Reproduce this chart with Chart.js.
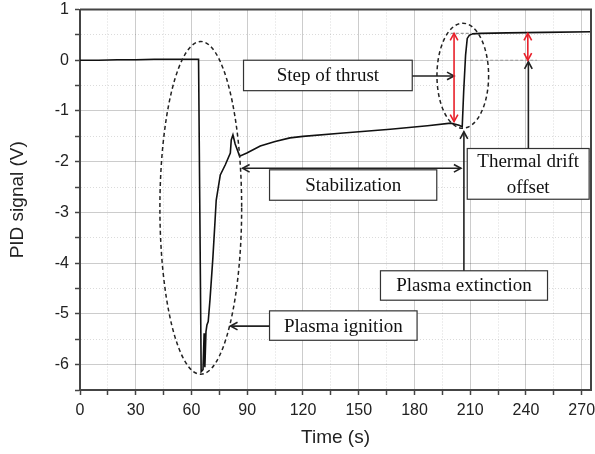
<!DOCTYPE html>
<html>
<head>
<meta charset="utf-8">
<script src="https://cdn.jsdelivr.net/npm/chart.js@4.4.1/dist/chart.umd.min.js"></script>
<style>
  html, body { margin: 0; padding: 0; background: #fff; }
  #wrap { width: 595px; height: 454px; }
</style>
</head>
<body>
<div id="wrap"><canvas id="chart" width="595" height="454"></canvas></div>
<script>
// PID signal vs time
const timeS = [0, 10, 20, 30, 40, 50, 60, 63, 63.8, 64.5, 65.2, 65.5, 66.2, 66.8, 67.2, 67.8,
  68.3, 69, 70, 71.5, 72.7, 73.3, 75.5, 78.2, 80.9, 81.4, 82.3, 83.5, 85.9, 89.8, 97, 105,
  113, 120, 140, 167, 187, 199.5, 204, 205.7, 206.5, 207.5, 208.4, 209.5, 211.1, 215.6,
  230, 250, 275];
const pidV = [0, 0, 0.01, 0.01, 0.02, 0.02, 0.02, 0.02, 0.02, -3.0, -6.14, -6.14, -6.1, -5.38,
  -6.05, -5.35, -5.22, -5.15, -4.7, -3.9, -3.15, -2.76, -2.26, -2.06, -1.83, -1.57, -1.47,
  -1.65, -1.89, -1.83, -1.69, -1.6, -1.53, -1.5, -1.44, -1.36, -1.29, -1.24, -1.28, -1.31,
  -0.6, 0.1, 0.43, 0.49, 0.52, 0.53, 0.54, 0.55, 0.56];

const xMajor = 30;   // labelled x ticks
const yMajor = 1;    // labelled y ticks

const points = timeS.map((t, i) => ({ x: t, y: pidV[i] }));

// annotations, in data units
const ellipses = [
  { cx: 65, cy: -2.91, rx: 22, ry: 3.28 },
  { cx: 206, cy: -0.305, rx: 13.9, ry: 1.035 },
];
const refLines = [
  { y: 0.53, x1: 199.5, x2: 211 },
  { y: 0, x1: 210, x2: 246 },
];
const boxes = [
  { x1: 88, x2: 178.8, y1: 0, y2: -0.6, lines: ["Step of thrust"] },
  { x1: 102, x2: 192, y1: -2.16, y2: -2.76, lines: ["Stabilization"] },
  { x1: 102, x2: 181.4, y1: -4.94, y2: -5.52, lines: ["Plasma ignition"] },
  { x1: 161.7, x2: 251.6, y1: -4.15, y2: -4.73, lines: ["Plasma extinction"] },
  { x1: 208.4, x2: 274, y1: -1.74, y2: -2.74, lines: ["Thermal drift", "offset"] },
];
const arrows = [
  { x1: 178.8, y1: -0.31, x2: 201.3, y2: -0.31, both: false, color: "#222" },
  { x1: 205, y1: -2.13, x2: 87.5, y2: -2.13, both: true, color: "#222" },
  { x1: 102, y1: -5.24, x2: 81, y2: -5.24, both: false, color: "#222" },
  { x1: 206.6, y1: -4.15, x2: 206.6, y2: -1.41, both: false, color: "#222" },
  { x1: 241.3, y1: -1.74, x2: 241.3, y2: -0.03, both: false, color: "#222" },
  { x1: 201.3, y1: -1.21, x2: 201.3, y2: 0.53, both: true, color: "#e8202a" },
  { x1: 241, y1: 0.0, x2: 241, y2: 0.53, both: true, color: "#e8202a" },
];

function head(ctx, fx, fy, tx, ty) {
  const a = Math.atan2(ty - fy, tx - fx);
  const len = 8, sp = 0.5;
  ctx.beginPath();
  ctx.moveTo(tx - len * Math.cos(a - sp), ty - len * Math.sin(a - sp));
  ctx.lineTo(tx, ty);
  ctx.lineTo(tx - len * Math.cos(a + sp), ty - len * Math.sin(a + sp));
  ctx.stroke();
}

const notes = {
  id: "notes",
  afterDatasetsDraw(chart) {
    const { ctx, chartArea: ca } = chart;
    const X = (v) => chart.scales.x.getPixelForValue(v);
    const Y = (v) => chart.scales.y.getPixelForValue(v);
    ctx.save();

    // top and right frame
    ctx.strokeStyle = "#444";
    ctx.lineWidth = 2;
    ctx.beginPath();
    ctx.moveTo(ca.left, ca.top);
    ctx.lineTo(ca.right, ca.top);
    ctx.lineTo(ca.right, ca.bottom);
    ctx.stroke();

    // grey dashed reference levels
    ctx.strokeStyle = "#9a9a9a";
    ctx.lineWidth = 1.2;
    ctx.setLineDash([3, 2]);
    refLines.forEach((r) => {
      ctx.beginPath();
      ctx.moveTo(X(r.x1), Y(r.y));
      ctx.lineTo(X(r.x2), Y(r.y));
      ctx.stroke();
    });

    // dashed ellipses
    ctx.strokeStyle = "#222";
    ctx.lineWidth = 1.5;
    ctx.setLineDash([4, 3]);
    ellipses.forEach((e) => {
      const cx = X(e.cx), cy = Y(e.cy);
      const rx = Math.abs(X(e.cx + e.rx) - cx), ry = Math.abs(Y(e.cy + e.ry) - cy);
      ctx.beginPath();
      ctx.ellipse(cx, cy, rx, ry, 0, 0, Math.PI * 2);
      ctx.stroke();
    });
    ctx.setLineDash([]);

    // labelled boxes
    ctx.font = "19px 'Liberation Serif', serif";
    ctx.textAlign = "center";
    ctx.textBaseline = "middle";
    boxes.forEach((b) => {
      const l = X(b.x1), r = X(b.x2), t = Y(b.y1), btm = Y(b.y2);
      ctx.fillStyle = "#fff";
      ctx.fillRect(l, t, r - l, btm - t);
      ctx.strokeStyle = "#333";
      ctx.lineWidth = 1.2;
      ctx.strokeRect(l, t, r - l, btm - t);
      ctx.fillStyle = "#111";
      const step = (btm - t) / b.lines.length;
      b.lines.forEach((s, i) => ctx.fillText(s, (l + r) / 2, t + step * (i + 0.5) + 1));
    });

    // arrows
    ctx.lineWidth = 1.6;
    arrows.forEach((a) => {
      const x1 = X(a.x1), y1 = Y(a.y1), x2 = X(a.x2), y2 = Y(a.y2);
      ctx.strokeStyle = a.color;
      ctx.beginPath();
      ctx.moveTo(x1, y1);
      ctx.lineTo(x2, y2);
      ctx.stroke();
      head(ctx, x1, y1, x2, y2);
      if (a.both) head(ctx, x2, y2, x1, y1);
    });

    ctx.restore();
  },
};

const tickFont = { family: "'Liberation Sans', Arial, sans-serif", size: 16 };
const titleFont = { family: "'Liberation Sans', Arial, sans-serif", size: 19 };

new Chart(document.getElementById("chart").getContext("2d"), {
  type: "line",
  data: {
    datasets: [
      {
        label: "PID signal",
        data: points,
        borderColor: "#111",
        borderWidth: 1.6,
        pointRadius: 0,
        fill: false,
        tension: 0,
      },
    ],
  },
  options: {
    responsive: false,
    animation: false,
    layout: { padding: { left: 0, right: 4, top: 9.5, bottom: 0 } },
    scales: {
      x: {
        type: "linear",
        min: 0,
        max: 275,
        afterFit: (s) => { s.height = 64; s.paddingLeft = 0; s.paddingRight = 0; },
        ticks: {
          stepSize: 15,
          includeBounds: false,
          autoSkip: false,
          maxRotation: 0,
          padding: 6,
          color: "#222",
          font: tickFont,
          callback: (v) => (v % xMajor === 0 ? v : ""),
        },
        grid: {
          color: (c) => (c.tick && c.tick.value % xMajor === 0 ? "rgba(0,0,0,0.2)" : "rgba(0,0,0,0.14)"),
          lineWidth: 1,
          tickColor: "#444",
          tickLength: 5,
          tickWidth: 1.5,
        },
        border: {
          color: "#444",
          width: 2,
          dash: (c) => (c.tick && c.tick.value % xMajor !== 0 ? [1, 2] : []),
        },
        title: { display: true, text: "Time (s)", color: "#222", font: titleFont, padding: { top: 4, bottom: 5 } },
      },
      y: {
        type: "linear",
        min: -6.5,
        max: 1,
        afterFit: (s) => { s.width = 80; s.paddingTop = 0; s.paddingBottom = 0; },
        ticks: {
          stepSize: 0.5,
          autoSkip: false,
          padding: 6,
          color: "#222",
          font: tickFont,
          callback: (v) => (Math.abs(v % yMajor) < 1e-9 ? v : ""),
        },
        grid: {
          color: (c) => (c.tick && Math.abs(c.tick.value % yMajor) < 1e-9 ? "rgba(0,0,0,0.2)" : "rgba(0,0,0,0.14)"),
          lineWidth: 1,
          tickColor: "#444",
          tickLength: 5,
          tickWidth: 1.5,
        },
        border: {
          color: "#444",
          width: 2,
          dash: (c) => (c.tick && Math.abs(c.tick.value % yMajor) > 1e-9 ? [1, 2] : []),
        },
        title: { display: true, text: "PID signal (V)", color: "#222", font: titleFont, padding: { top: 6, bottom: 4 } },
      },
    },
    plugins: {
      legend: { display: false },
      tooltip: { enabled: false },
    },
  },
  plugins: [notes],
});
</script>
</body>
</html>
